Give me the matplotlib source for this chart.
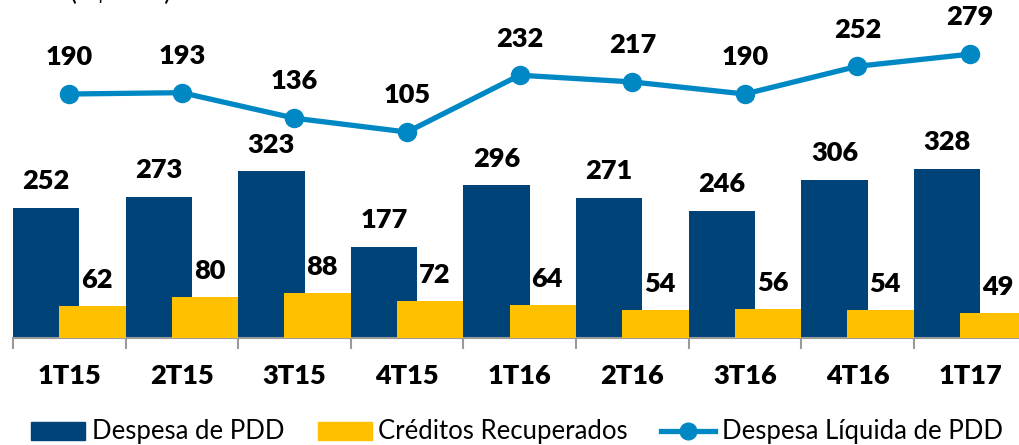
import numpy as np
import matplotlib
matplotlib.use("Agg")
import matplotlib.pyplot as plt
from matplotlib.patches import Patch
from matplotlib.lines import Line2D

plt.rcParams['font.family'] = ['Lato', 'DejaVu Sans']

periods = ['1T15', '2T15', '3T15', '4T15', '1T16', '2T16', '3T16', '4T16', '1T17']
despesa_pdd = [252, 273, 323, 177, 296, 271, 246, 306, 328]
creditos_recuperados = [62, 80, 88, 72, 64, 54, 56, 54, 49]
despesa_liquida = [190, 193, 136, 105, 232, 217, 190, 252, 279]

c_dark = '#004379'
c_yellow = '#FFC000'
c_line = '#0088C4'

W, H = 1019, 445
fig = plt.figure(figsize=(W / 100, H / 100), dpi=100)

# axes run off the right edge, like the cropped original
left, bottom = 13, 338
cat_w = 112.6
ax = fig.add_axes([left / W, (H - bottom) / H, 9 * cat_w / W, bottom / H])

x = np.arange(len(periods))
bw = 0.59
off = 0.205
ax.bar(x - off, despesa_pdd, bw, color=c_dark, zorder=2)
ax.bar(x + off, creditos_recuperados, bw, color=c_yellow, zorder=3)

ax.set_xlim(-0.5, len(periods) - 0.5)
ax.set_ylim(0, bottom / 0.5155)

lbl = dict(ha='center', va='center', fontsize=19.5, fontweight='heavy', color='black')
for xi, v in zip(x, despesa_pdd):
    ax.text(xi - off, v + 52, str(v), **lbl)
for xi, v in zip(x, creditos_recuperados):
    ax.text(xi + off + 0.04, v + 50, str(v), **lbl)

ax2 = ax.twinx()
ax2.plot(x, despesa_liquida, color=c_line, lw=3.8, marker='o', ms=13, zorder=4)
ax2.set_ylim(-355, 400)
for xi, v in zip(x, despesa_liquida):
    ax2.text(xi, v + 82, str(v), **lbl)

for a in (ax, ax2):
    for s in ('top', 'right', 'left'):
        a.spines[s].set_visible(False)
    a.set_yticks([])
ax2.spines['bottom'].set_visible(False)
ax.spines['bottom'].set_color('#9a9a9a')
ax.spines['bottom'].set_linewidth(1.5)

ax.set_xticks(x)
ax.set_xticklabels(periods, fontsize=19.5, fontweight='heavy')
ax.tick_params(axis='x', length=0, pad=19)
ax.set_xticks(np.arange(len(periods) + 1) - 0.5, minor=True)
ax.tick_params(axis='x', which='minor', length=8, width=1.5, color='#9a9a9a')

fig.text(70 / W, 1.0 + 8 / H, '(R$ MM)', fontsize=19, va='center', ha='left')

handles = [Patch(color=c_dark), Patch(color=c_yellow),
           Line2D([0], [0], color=c_line, lw=3.8, marker='o', ms=12)]
labels = ['Despesa de PDD', 'Créditos Recuperados', 'Despesa Líquida de PDD']
fig.legend(handles, labels, loc='center', bbox_to_anchor=(517 / W, 1 - 432 / H),
           ncol=3, frameon=False, fontsize=18.5, handlelength=2.1, handleheight=0.7,
           handletextpad=0.25, columnspacing=1.3, borderpad=0)

fig.savefig('out.png', dpi=100)
